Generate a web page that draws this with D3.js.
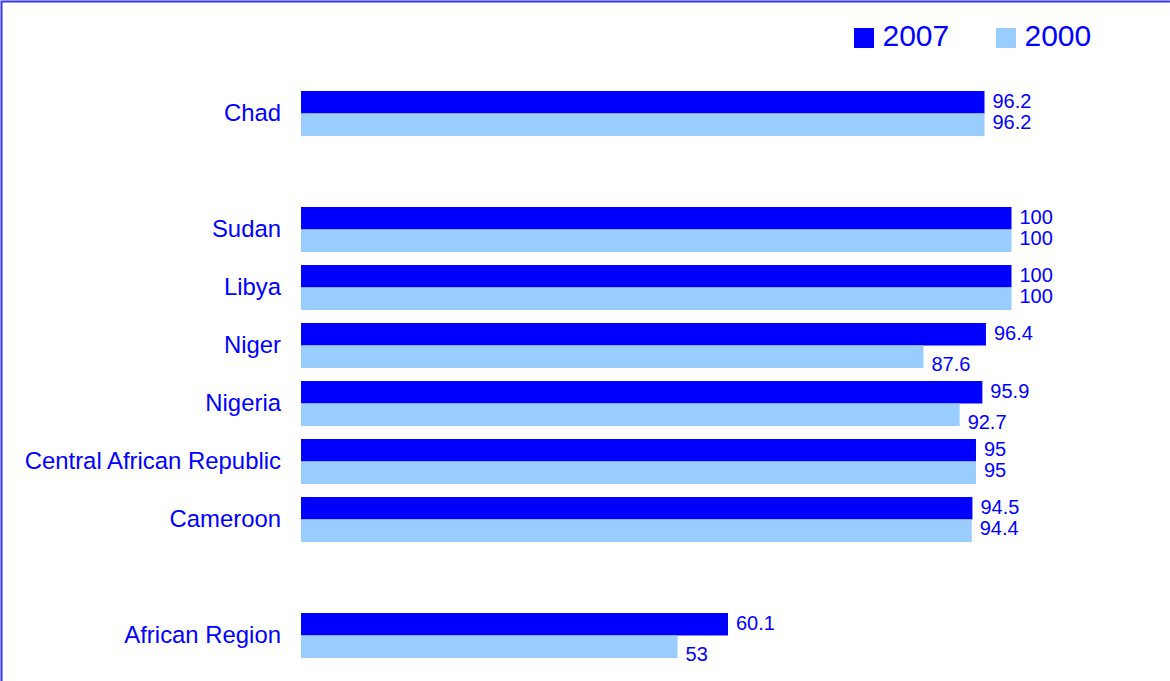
<!DOCTYPE html>
<html>
<head>
<meta charset="utf-8">
<script src="https://cdn.jsdelivr.net/npm/d3@7"></script>
<style>
  html, body { margin: 0; padding: 0; background: #ffffff; }
  svg { display: block; }
</style>
</head>
<body>
<svg id="chart" width="1170" height="681"></svg>
<script>
// ---- data ----
const categories = ["Chad", "Sudan", "Libya", "Niger", "Nigeria", "Central African Republic", "Cameroon", "African Region"];
const values2007 = [96.2, 100, 100, 96.4, 95.9, 95, 94.5, 60.1];
const values2000 = [96.2, 100, 100, 87.6, 92.7, 95, 94.4, 53];
const seriesNames = ["2007", "2000"];
const seriesColors = ["#0000FF", "#99CCFF"];
// row order including the two empty separator rows
const rowSlots = ["Chad", "gap1", "Sudan", "Libya", "Niger", "Nigeria", "Central African Republic", "Cameroon", "gap2", "African Region"];

const W = 1170, H = 681;
const textColor = "#0000FF";
const font = "'Liberation Sans', Arial, sans-serif";

const svg = d3.select("#chart");

// border (right and bottom edges lie outside the picture)
svg.append("rect")
  .attr("x", 1.5).attr("y", 1.5)
  .attr("width", W + 10).attr("height", H + 10)
  .attr("fill", "none")
  .attr("stroke", "#3333FF")
  .attr("stroke-width", 2);

const x = d3.scaleLinear().domain([0, 100]).range([301, 1011.5]);
const y = d3.scaleBand().domain(rowSlots)
  .range([84.5, 664.5])
  .paddingInner(13 / 58)
  .paddingOuter(6.5 / 58);
const ySub = d3.scaleBand().domain(seriesNames).range([0, y.bandwidth()]);

const rows = categories.map((c, i) => ({
  cat: c,
  vals: [
    { s: "2007", v: values2007[i], other: values2000[i] },
    { s: "2000", v: values2000[i], other: values2007[i] }
  ]
}));

const g = svg.append("g");

const rowG = g.selectAll("g.row").data(rows).join("g")
  .attr("class", "row")
  .attr("transform", d => `translate(0,${y(d.cat)})`);

rowG.selectAll("rect").data(d => d.vals).join("rect")
  .attr("x", x(0))
  .attr("y", d => ySub(d.s))
  .attr("width", d => x(d.v) - x(0))
  .attr("height", ySub.bandwidth())
  .attr("fill", d => seriesColors[seriesNames.indexOf(d.s)]);

// value labels
rowG.selectAll("text.val").data(d => d.vals).join("text")
  .attr("class", "val")
  .attr("x", d => x(d.v) + 8)
  .attr("y", d => {
    const c = ySub(d.s) + ySub.bandwidth() / 2;
    if (d.s === "2007") return c - 1.5;
    return Math.abs(d.v - d.other) < 1 ? c - 3 : c + 7;
  })
  .attr("dy", "0.36em")
  .attr("font-family", font)
  .attr("font-size", "20px")
  .attr("fill", textColor)
  .text(d => d.v);

// category labels
rowG.append("text")
  .attr("x", 281)
  .attr("y", y.bandwidth() / 2)
  .attr("dy", "0.31em")
  .attr("text-anchor", "end")
  .attr("font-family", font)
  .attr("font-size", "23.9px")
  .attr("fill", textColor)
  .text(d => d.cat);

// legend
const legendX = [854, 996];
const lg = svg.selectAll("g.legend").data(seriesNames).join("g")
  .attr("class", "legend")
  .attr("transform", (d, i) => `translate(${legendX[i]},28)`);
lg.append("rect")
  .attr("width", 20).attr("height", 20)
  .attr("fill", (d, i) => seriesColors[i]);
lg.append("text")
  .attr("x", 28.5)
  .attr("y", 17.7)
  .attr("font-family", font)
  .attr("font-size", "30px")
  .attr("fill", textColor)
  .text(d => d);
</script>
</body>
</html>
